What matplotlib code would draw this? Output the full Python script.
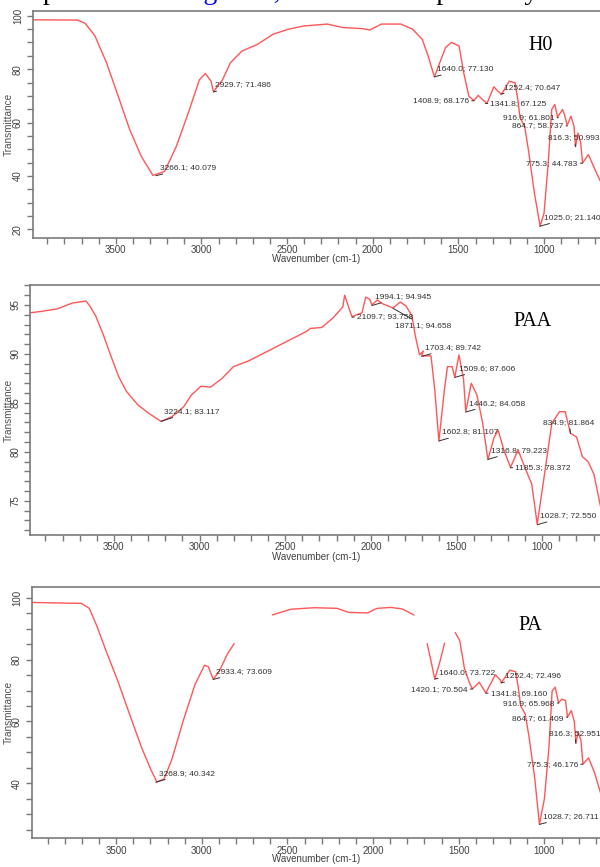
import matplotlib
matplotlib.use("Agg")
import matplotlib.pyplot as plt
from matplotlib.ticker import MultipleLocator

# ---------------- data ----------------
h0_wn = [3985, 3724, 3679, 3622, 3554, 3486, 3419, 3351, 3283, 3215, 3147, 3080, 3012, 2977,
         2944, 2930, 2877, 2831, 2763, 2673, 2582, 2491, 2401, 2265, 2175, 2062, 2017, 1949,
         1836, 1768, 1711, 1677, 1640, 1609, 1575, 1541, 1496, 1469, 1439, 1409, 1384, 1356,
         1333, 1293, 1270, 1248, 1203, 1169, 1153, 1140, 1113, 1090, 1056, 1023, 1000, 977,
         955, 937, 921, 892, 879, 865, 843, 825, 816, 802, 786, 775, 741, 707, 666]
h0_t = [98.5, 98.4, 97.2, 92.5, 82.4, 69.9, 57.4, 47.3, 40.2, 41.7, 51.0, 63.0, 76.0, 78.4,
        75.5, 71.5, 76.0, 82.4, 86.8, 89.3, 93.1, 95.0, 96.2, 96.9, 95.6, 95.2, 94.7, 96.9,
        96.9, 95.0, 91.2, 85.0, 77.1, 82.4, 88.1, 90.0, 88.7, 78.7, 69.9, 68.2, 70.2, 68.4,
        67.2, 73.4, 71.8, 70.6, 75.5, 74.9, 68.6, 61.8, 58.6, 49.2, 33.5, 21.2, 26.0, 43.6,
        64.9, 66.8, 62.0, 64.9, 62.7, 58.9, 62.4, 58.6, 51.0, 56.1, 52.4, 44.8, 48.0, 43.0, 37.3]

paa_wn = [3990, 3921, 3831, 3742, 3663, 3641, 3607, 3563, 3518, 3473, 3428, 3361, 3294, 3224,
          3160, 3093, 3048, 2992, 2936, 2869, 2802, 2712, 2600, 2488, 2376, 2354, 2287, 2220,
          2164, 2153, 2119, 2110, 2052, 2030, 2007, 1994, 1963, 1929, 1871, 1828, 1795, 1761,
          1739, 1716, 1694, 1703, 1649, 1627, 1603, 1571, 1553, 1526, 1510, 1486, 1459, 1446,
          1414, 1381, 1347, 1317, 1280, 1257, 1224, 1185, 1141, 1101, 1061, 1029, 989, 944,
          899, 866, 835, 799, 765, 732, 698, 658]
paa_t = [94.2, 94.35, 94.6, 95.2, 95.4, 94.9, 93.9, 92.0, 89.8, 87.7, 86.2, 84.8, 83.9, 83.1,
         83.6, 84.6, 85.8, 86.7, 86.6, 87.5, 88.7, 89.3, 90.3, 91.3, 92.3, 92.6, 92.7, 93.7,
         94.8, 96.0, 94.2, 93.8, 94.2, 95.8, 95.6, 95.0, 95.5, 95.1, 94.7, 95.3, 94.9, 93.9,
         91.7, 89.9, 90.3, 89.8, 89.8, 86.3, 81.1, 86.3, 88.7, 88.7, 87.6, 89.9, 87.4, 84.1,
         87.0, 85.8, 82.9, 79.2, 81.5, 82.2, 80.2, 78.4, 80.2, 78.4, 76.7, 72.6, 77.4, 82.9,
         84.1, 84.1, 81.9, 81.5, 79.5, 79.0, 77.7, 74.3]

pa_wn_segments = [
    [3993, 3702, 3657, 3612, 3556, 3489, 3422, 3354, 3298, 3262, 3220, 3175, 3108, 3040,
     2984, 2962, 2933, 2895, 2850, 2812],
    [2587, 2480, 2345, 2211, 2143, 2031, 1998, 1975, 1897, 1830, 1763],
    [1684, 1661, 1640, 1610, 1583],
    [1520, 1494, 1467, 1437, 1420, 1381, 1359, 1342, 1287, 1258, 1252, 1202, 1168, 1152,
     1139, 1112, 1090, 1056, 1029, 1000, 973, 955, 937, 917, 899, 877, 865, 843, 825, 816,
     803, 787, 775, 742, 708, 668],
]
pa_t_segments = [
    [98.5, 98.2, 96.6, 90.8, 82.4, 72.9, 62.4, 51.9, 44.5, 40.4, 41.4, 47.7, 60.3, 71.9,
     78.2, 77.7, 73.6, 76.6, 81.9, 85.1],
    [94.5, 96.3, 96.8, 96.6, 95.3, 95.1, 96.1, 96.6, 96.9, 96.4, 94.5],
    [85.1, 79.3, 73.7, 79.3, 85.3],
    [88.7, 86.1, 77.2, 72.4, 70.5, 72.7, 70.8, 69.2, 75.1, 73.5, 72.5, 76.6, 76.1, 70.8,
     65.1, 62.4, 55.1, 41.4, 26.7, 35.0, 51.9, 69.8, 71.1, 66.0, 67.2, 66.8, 61.4, 63.5,
     59.8, 53.0, 56.6, 54.0, 46.2, 48.2, 43.5, 36.1],
]

h0_peaks = [(3266.1, 40.079), (2929.7, 71.486), (1640.0, 77.130), (1408.9, 68.176),
            (1341.8, 67.125), (1252.4, 70.647), (916.9, 61.801), (864.7, 58.737),
            (816.3, 50.993), (775.3, 44.783), (1025.0, 21.140)]
paa_peaks = [(3224.1, 83.117), (2109.7, 93.758), (1994.1, 94.945), (1871.1, 94.658),
             (1703.4, 89.742), (1602.8, 81.107), (1509.6, 87.606), (1446.2, 84.058),
             (1316.8, 79.223), (1185.3, 78.372), (834.9, 81.864), (1028.7, 72.550)]
pa_peaks = [(3268.9, 40.342), (2933.4, 73.609), (1640.0, 73.722), (1420.1, 70.504),
            (1341.8, 69.160), (1252.4, 72.496), (916.9, 65.968), (864.7, 61.409),
            (816.3, 52.951), (775.3, 46.176), (1028.7, 26.711)]

sample_names = ["H0", "PAA", "PA"]
x_label = "Wavenumber (cm-1)"
y_label = "Transmittance"
caption_pieces = ["FTIR spectra in", "Figure 3,", "and shown", "respectively"]

# ---------------- styles / layout ----------------
h0_offsets = [(4, 8, 'left'), (2, 7, 'left'), (3, 8, 'left'), (-5, 0, 'right'),
              (5, 0, 'left'), (3, 7, 'left'), (-4, 0, 'right'), (-4, 0, 'right'),
              (-27, 9, 'left'), (-5, 0, 'right'), (4, 9, 'left')]
paa_offsets = [(3, 10, 'left'), (5, 1, 'left'), (3, 9, 'left'), (2, -17, 'left'),
               (3, 9, 'left'), (3, 9, 'left'), (4, 9, 'left'), (3, 9, 'left'),
               (3, 9, 'left'), (5, 0, 'left'), (-27, 11, 'left'), (3, 9, 'left')]
pa_offsets = [(3, 9, 'left'), (3, 8, 'left'), (4, 7, 'left'), (-5, -1, 'right'),
              (5, 0, 'left'), (4, 7, 'left'), (-4, -1, 'right'), (-4, -1, 'right'),
              (-27, 10, 'left'), (-5, 0, 'right'), (4, 8, 'left')]

W, H = 600, 867
PXW = 0.1713   # px per cm-1
RIGHT_WN = 400
LINE = '#ff5757'
SPINE = '#7a7a7a'
TXT = '#404040'
plt.rcParams['font.family'] = ['Liberation Sans', 'DejaVu Sans']

fig = plt.figure(figsize=(W / 100, H / 100), dpi=100)


def make_axes(left_px, top_px, bottom_px, left_wn, ylim, ymaj, ymin, xlab_gap):
    width_px = (left_wn - RIGHT_WN) * PXW
    hpx = bottom_px - top_px
    ax = fig.add_axes([left_px / W, 1 - bottom_px / H, width_px / W, hpx / H])
    ax.set_xlim(left_wn, RIGHT_WN)
    ax.set_ylim(*ylim)
    for s in ['left', 'bottom', 'top']:
        ax.spines[s].set_color(SPINE)
        ax.spines[s].set_linewidth(1.2)
    ax.spines['right'].set_visible(False)
    ax.xaxis.set_major_locator(MultipleLocator(500))
    ax.xaxis.set_minor_locator(MultipleLocator(100))
    ax.yaxis.set_major_locator(MultipleLocator(ymaj))
    ax.yaxis.set_minor_locator(MultipleLocator(ymin))
    ax.tick_params(which='both', direction='out', length=4, width=1, color=SPINE,
                   labelsize=7.0, labelcolor=TXT, pad=1.2)
    ax.tick_params(axis='y', which='both', labelrotation=90, pad=3)
    for lab in ax.get_yticklabels():
        lab.set_va('center')
    ax.set_xlabel(x_label, fontsize=7.0, color=TXT)
    ax.set_ylabel(y_label, fontsize=7.2, color='#505050')
    ax.xaxis.set_label_coords((316 - left_px) / width_px, -xlab_gap / hpx)
    ax.yaxis.set_label_coords((14 - left_px) / width_px, 0.5)
    return ax


def annotate(ax, peaks, offsets):
    for (wn, t), (dx, dy, ha) in zip(peaks, offsets):
        ax.annotate(f"{wn:.1f}; {t:.3f}", xy=(wn, t), xytext=(dx, dy),
                    textcoords='offset pixels', ha=ha, va='center',
                    fontsize=6.0, color='#303030',
                    arrowprops=dict(arrowstyle='-', color='#303030', lw=0.7,
                                    shrinkA=0, shrinkB=0))


ax1 = make_axes(32.7, 11, 237.7, 3985, (16.85, 101.8), 20, 5, 16.5)
ax1.plot(h0_wn, h0_t, color=LINE, lw=1.0)
annotate(ax1, h0_peaks, h0_offsets)

ax2 = make_axes(30, 285, 535, 3990, (71.5, 97.04), 5, 1, 17.0)
ax2.plot(paa_wn, paa_t, color=LINE, lw=1.0)
annotate(ax2, paa_peaks, paa_offsets)

ax3 = make_axes(31.7, 586.7, 838.3, 3993, (22.2, 103.6), 20, 5, 16.0)
for xs, ys in zip(pa_wn_segments, pa_t_segments):
    ax3.plot(xs, ys, color=LINE, lw=1.0)
annotate(ax3, pa_peaks, pa_offsets)

# panel names
for name, (xp, yp) in zip(sample_names, [(541, 45), (533, 322), (530, 625)]):
    fig.text(xp / W, 1 - yp / H, name, fontsize=14.4, family='Liberation Serif',
             ha='center', va='center', color='black')

# cropped caption line at the top (only descenders visible)
serif = dict(fontsize=20, family='Liberation Serif', va='baseline')
ybase = 1 + 1.5 / H
for txt, xp, col in zip(caption_pieces, [-35, 180, 286, 404],
                        ['black', '#0000ff', 'black', 'black']):
    fig.text(xp / W, ybase, txt, color=col, **serif)

fig.savefig("out.png", dpi=100)
